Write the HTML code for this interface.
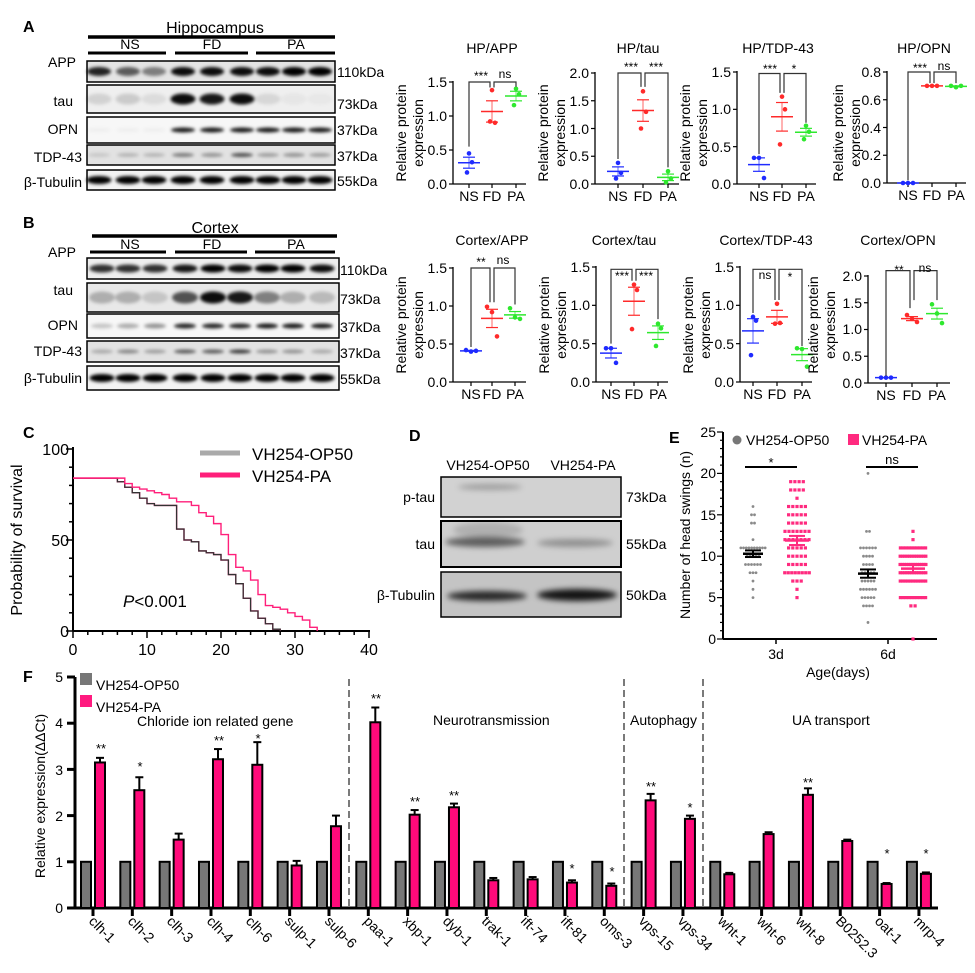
<!DOCTYPE html>
<html><head><meta charset="utf-8"><style>
html,body{margin:0;padding:0;background:#fff}
svg{display:block;font-family:"Liberation Sans",Arial,sans-serif}
</style></head><body>
<svg id="s" width="975" height="973" viewBox="0 0 975 973" xmlns="http://www.w3.org/2000/svg">
<defs>
<filter id="bl" x="-20%" y="-100%" width="140%" height="300%"><feGaussianBlur stdDeviation="1.6"/></filter>
<filter id="bl2" x="-20%" y="-100%" width="140%" height="300%"><feGaussianBlur stdDeviation="3"/></filter>
</defs>
<g id="shapes"></g>
<g font-size="16" font-weight="bold">
<text x="23" y="32">A</text><text x="23" y="228">B</text><text x="23" y="438">C</text>
<text x="409" y="441">D</text><text x="669" y="443">E</text><text x="23" y="682">F</text>
</g>
<g font-size="16" text-anchor="middle"><text x="215" y="33">Hippocampus</text><text x="215" y="233">Cortex</text></g>
<g font-size="14" text-anchor="middle">
<text x="130" y="49">NS</text><text x="212" y="49">FD</text><text x="296" y="49">PA</text>
<text x="130" y="249">NS</text><text x="212" y="249">FD</text><text x="296" y="249">PA</text>
</g>
<g font-size="14" text-anchor="end">
<text x="76" y="67">APP</text><text x="73" y="106">tau</text><text x="78" y="134">OPN</text><text x="82" y="162">TDP-43</text><text x="82" y="187">β-Tubulin</text>
<text x="76" y="257">APP</text><text x="73" y="295">tau</text><text x="78" y="330">OPN</text><text x="82" y="356">TDP-43</text><text x="82" y="383">β-Tubulin</text>
</g>
<g font-size="14">
<text x="337" y="77">110kDa</text><text x="337" y="109">73kDa</text><text x="337" y="135">37kDa</text><text x="337" y="161">37kDa</text><text x="337" y="186">55kDa</text>
<text x="340" y="275">110kDa</text><text x="340" y="304">73kDa</text><text x="340" y="332">37kDa</text><text x="340" y="358">37kDa</text><text x="340" y="384">55kDa</text>
</g>
<g font-size="14" text-anchor="middle">
<text x="492" y="53">HP/APP</text><text x="638" y="53">HP/tau</text><text x="778" y="53">HP/TDP-43</text><text x="924" y="53">HP/OPN</text>
<text x="492" y="245">Cortex/APP</text><text x="624" y="245">Cortex/tau</text><text x="766" y="245">Cortex/TDP-43</text><text x="898" y="245">Cortex/OPN</text>
</g>
<g font-size="14" text-anchor="middle">
<text transform="translate(406,133) rotate(-90)">Relative protein</text><text transform="translate(423,133) rotate(-90)">expression</text>
<text transform="translate(548,133) rotate(-90)">Relative protein</text><text transform="translate(565,133) rotate(-90)">expression</text>
<text transform="translate(690,133) rotate(-90)">Relative protein</text><text transform="translate(707,133) rotate(-90)">expression</text>
<text transform="translate(843,133) rotate(-90)">Relative protein</text><text transform="translate(860,133) rotate(-90)">expression</text>
<text transform="translate(406,325) rotate(-90)">Relative protein</text><text transform="translate(423,325) rotate(-90)">expression</text>
<text transform="translate(549,325) rotate(-90)">Relative protein</text><text transform="translate(566,325) rotate(-90)">expression</text>
<text transform="translate(693,325) rotate(-90)">Relative protein</text><text transform="translate(710,325) rotate(-90)">expression</text>
<text transform="translate(818,325) rotate(-90)">Relative protein</text><text transform="translate(835,325) rotate(-90)">expression</text>
</g>
<g font-size="14" text-anchor="end">
<text x="447" y="189">0.0</text><text x="447" y="155">0.5</text><text x="447" y="121">1.0</text><text x="447" y="87">1.5</text>
<text x="589" y="189">0.0</text><text x="589" y="161">0.5</text><text x="589" y="134">1.0</text><text x="589" y="106">1.5</text><text x="589" y="78">2.0</text>
<text x="731" y="189">0.0</text><text x="731" y="152">0.5</text><text x="731" y="114">1.0</text><text x="731" y="77">1.5</text>
<text x="881" y="188">0.0</text><text x="881" y="160">0.2</text><text x="881" y="133">0.4</text><text x="881" y="105">0.6</text><text x="881" y="77">0.8</text>
<text x="447" y="387">0.0</text><text x="447" y="349">0.5</text><text x="447" y="311">1.0</text><text x="447" y="273">1.5</text>
<text x="590" y="387">0.0</text><text x="590" y="349">0.5</text><text x="590" y="310">1.0</text><text x="590" y="272">1.5</text>
<text x="734" y="387">0.0</text><text x="734" y="349">0.5</text><text x="734" y="310">1.0</text><text x="734" y="272">1.5</text>
<text x="862" y="388">0.0</text><text x="862" y="361">0.5</text><text x="862" y="334">1.0</text><text x="862" y="308">1.5</text><text x="862" y="281">2.0</text>
</g>
<g font-size="14" text-anchor="middle">
<text x="469" y="201">NS</text><text x="492" y="201">FD</text><text x="516" y="201">PA</text>
<text x="618" y="201">NS</text><text x="643" y="201">FD</text><text x="668" y="201">PA</text>
<text x="759" y="201">NS</text><text x="782" y="201">FD</text><text x="806" y="201">PA</text>
<text x="908" y="200">NS</text><text x="932" y="200">FD</text><text x="956" y="200">PA</text>
<text x="471" y="399">NS</text><text x="492" y="399">FD</text><text x="515" y="399">PA</text>
<text x="611" y="399">NS</text><text x="634" y="399">FD</text><text x="658" y="399">PA</text>
<text x="753" y="399">NS</text><text x="777" y="399">FD</text><text x="802" y="399">PA</text>
<text x="886" y="400">NS</text><text x="912" y="400">FD</text><text x="937" y="400">PA</text>
</g>
<g font-size="12" text-anchor="middle">
<text x="481" y="80">***</text><text x="505" y="78">ns</text>
<text x="631" y="71">***</text><text x="656" y="71">***</text>
<text x="770" y="73">***</text><text x="794" y="73">*</text>
<text x="920" y="72">***</text><text x="944" y="70">ns</text>
<text x="481" y="266">**</text><text x="503" y="264">ns</text>
<text x="622" y="280">***</text><text x="646" y="280">***</text>
<text x="765" y="279">ns</text><text x="790" y="281">*</text>
<text x="899" y="274">**</text><text x="925" y="272">ns</text>
</g>
<g font-size="16" text-anchor="middle">
<text x="73" y="655">0</text><text x="147" y="655">10</text><text x="221" y="655">20</text><text x="295" y="655">30</text><text x="369" y="655">40</text>
</g>
<g font-size="16" text-anchor="end">
<text x="69" y="455">100</text><text x="69" y="546">50</text><text x="69" y="637">0</text>
</g>
<text font-size="16" text-anchor="middle" transform="translate(22,540) rotate(-90)">Probability of survival</text>
<text x="123" y="607" font-size="17"><tspan font-style="italic">P</tspan>&lt;0.001</text>
<g font-size="17"><text x="252" y="460">VH254-OP50</text><text x="252" y="482">VH254-PA</text></g>
<g font-size="14" text-anchor="middle"><text x="488" y="470">VH254-OP50</text><text x="583" y="470">VH254-PA</text></g>
<g font-size="14" text-anchor="end"><text x="435" y="502">p-tau</text><text x="435" y="549">tau</text><text x="435" y="600">β-Tubulin</text></g>
<g font-size="14"><text x="626" y="502">73kDa</text><text x="626" y="549">55kDa</text><text x="626" y="600">50kDa</text></g>
<g font-size="14" text-anchor="end">
<text x="716" y="437">25</text><text x="716" y="478">20</text><text x="716" y="520">15</text><text x="716" y="561">10</text><text x="716" y="602">5</text><text x="716" y="644">0</text>
</g>
<text font-size="14" text-anchor="middle" transform="translate(690,535) rotate(-90)">Number of head swings (n)</text>
<g font-size="14" text-anchor="middle"><text x="776" y="659">3d</text><text x="888" y="659">6d</text><text x="838" y="677">Age(days)</text>
<text x="771" y="467" font-size="13">*</text><text x="892" y="464" font-size="13">ns</text></g>
<g font-size="14"><text x="746" y="445">VH254-OP50</text><text x="862" y="445">VH254-PA</text></g>
<g font-size="14" text-anchor="end">
<text x="63" y="913">0</text><text x="63" y="867">1</text><text x="63" y="821">2</text><text x="63" y="775">3</text><text x="63" y="728">4</text><text x="63" y="682">5</text>
</g>
<text font-size="14" text-anchor="middle" transform="translate(45,796) rotate(-90)">Relative expression(ΔΔCt)</text>
<g font-size="14"><text x="96" y="690">VH254-OP50</text><text x="96" y="712">VH254-PA</text>
<text x="137" y="726">Chloride ion related gene</text><text x="433" y="725">Neurotransmission</text><text x="630" y="725">Autophagy</text><text x="792" y="725">UA transport</text></g>
<g font-size="14" id="genes">
<text transform="translate(88,922) rotate(45)">clh-1</text>
<text transform="translate(127,922) rotate(45)">clh-2</text>
<text transform="translate(166,922) rotate(45)">clh-3</text>
<text transform="translate(206,922) rotate(45)">clh-4</text>
<text transform="translate(245,922) rotate(45)">clh-6</text>
<text transform="translate(284,922) rotate(45)">sulp-1</text>
<text transform="translate(324,922) rotate(45)">sulp-6</text>
<text transform="translate(363,922) rotate(45)">paa-1</text>
<text transform="translate(402,922) rotate(45)">xbp-1</text>
<text transform="translate(442,922) rotate(45)">dyb-1</text>
<text transform="translate(481,922) rotate(45)">trak-1</text>
<text transform="translate(520,922) rotate(45)">ift-74</text>
<text transform="translate(560,922) rotate(45)">ift-81</text>
<text transform="translate(599,922) rotate(45)">oms-3</text>
<text transform="translate(638,922) rotate(45)">vps-15</text>
<text transform="translate(677,922) rotate(45)">vps-34</text>
<text transform="translate(717,922) rotate(45)">wht-1</text>
<text transform="translate(756,922) rotate(45)">wht-6</text>
<text transform="translate(795,922) rotate(45)">wht-8</text>
<text transform="translate(835,922) rotate(45)">B0252.3</text>
<text transform="translate(874,922) rotate(45)">oat-1</text>
<text transform="translate(913,922) rotate(45)">mrp-4</text>
</g>
<g font-size="13" text-anchor="middle">
<text x="101" y="753">**</text><text x="140" y="771">*</text><text x="219" y="745">**</text><text x="258" y="743">*</text>
<text x="376" y="703">**</text><text x="415" y="806">**</text><text x="454" y="800">**</text>
<text x="572" y="873">*</text><text x="612" y="876">*</text>
<text x="651" y="791">**</text><text x="690" y="812">*</text><text x="808" y="787">**</text>
<text x="887" y="858">*</text><text x="926" y="858">*</text>
</g>
</svg>
<script>
var NS="http://www.w3.org/2000/svg",G=document.getElementById('shapes');
function el(t,a){var e=document.createElementNS(NS,t);for(var k in a)e.setAttribute(k,a[k]);G.appendChild(e);return e;}
function L(x1,y1,x2,y2,c,w,ex){var a={x1:x1,y1:y1,x2:x2,y2:y2,stroke:c||'#000','stroke-width':w||1};if(ex)for(var k in ex)a[k]=ex[k];return el('line',a);}
function R(x,y,w,h,f,ex){var a={x:x,y:y,width:w,height:h,fill:f};if(ex)for(var k in ex)a[k]=ex[k];return el('rect',a);}
L(88,37,335,37,'#000',3.5);
[[88,166],[175,248],[256,335]].forEach(function(p){L(p[0],53,p[1],53,'#000',3)});
L(92,236,337,236,'#000',3.5);
[[90,166],[175,247],[255,335]].forEach(function(p){L(p[0],252,p[1],252,'#000',3)});
function blot(x1,x2,y1,y2,bg,lanes,ints,bh,bw){
  R(x1,y1,x2-x1,y2-y1,bg,{stroke:'#000','stroke-width':1.5});
  var cy=(y1+y2)/2;
  lanes.forEach(function(lx,i){var v=ints[i];if(v<=0)return;
    el('ellipse',{cx:lx,cy:cy,rx:bw/2,ry:bh/2,fill:'#000','fill-opacity':v,filter:'url(#bl)'});});
}
var la=[99,128,154,183,212,242,268,294,320],lb=[102,128,155,185,213,240,267,293,322];
blot(87,335,61,82,'#e4e4e4',la,[.85,.6,.45,.95,.95,.95,.95,1,1],9,24);
blot(87,335,85,113,'#efefef',la,[.12,.15,.08,.95,.9,.95,.1,.04,.03],11,25);
blot(87,335,117,143,'#f7f7f7',la,[.03,.03,.03,.9,.9,.9,.9,.9,.9],5,24);
blot(87,335,145,165,'#e2e2e2',la,[.12,.2,.2,.45,.35,.65,.3,.35,.3],4,22);
blot(87,335,170,190,'#f3f3f3',la,[1,1,1,1,1,1,1,1,1],8,25);
blot(87,339,258,279,'#eeeeee',lb,[.8,.8,.8,.9,1,.95,1,1,.95],8,25);
blot(87,339,283,312,'#e8e8e8',lb,[.25,.25,.15,.65,.95,.9,.45,.25,.2],12,26);
blot(87,339,314,338,'#f7f7f7',lb,[.2,.3,.4,.85,.85,.85,.9,.9,.9],5,22);
blot(87,339,341,362,'#e2e2e2',lb,[.25,.4,.3,.6,.6,.75,.35,.35,.25],4,22);
blot(87,339,366,390,'#f3f3f3',lb,[1,1,1,1,1,1,1,1,1],8,25);
var COL=['#1f2bff','#ff2a2a','#2ee82e'];
function sp(o){
  var ax=o.ax,y0=o.y0,yt=o.yt,mx=o.max,sc=(y0-yt)/mx;
  function Y(v){return y0-v*sc;}
  L(ax,yt-1,ax,y0,'#000',1.3);L(ax,y0,o.end,y0,'#000',1.3);
  o.ticks.forEach(function(t){L(ax-4,Y(t),ax,Y(t),'#000',1.2)});
  o.g.forEach(function(gx){L(gx,y0,gx,y0+4,'#000',1.2)});
  o.d.forEach(function(arr,i){var gx=o.g[i],c=COL[i];
    var m=arr.reduce(function(a,b){return a+b},0)/3;
    var sd=Math.sqrt(arr.reduce(function(a,b){return a+(b-m)*(b-m)},0)/2)/Math.sqrt(3);
    var off=[-5,0,5];
    arr.forEach(function(v,j){var dx=o.flat?off[j]:(j==1?3:(j==0?0:-2)); if(!o.flat&&Math.abs(arr[0]-arr[1])<0.04)dx=off[j];
      el('circle',{cx:gx+dx,cy:Y(v),r:2.3,fill:c});});
    L(gx-11,Y(m),gx+11,Y(m),c,1.5);
    L(gx,Y(m+sd),gx,Y(m-sd),c,1.2,{'stroke-opacity':.6});
    L(gx-6,Y(m+sd),gx+6,Y(m+sd),c,1.2);L(gx-6,Y(m-sd),gx+6,Y(m-sd),c,1.2);
  });
  o.br.forEach(function(b){
    el('polyline',{points:b[0]+','+b[1]+' '+b[0]+','+b[4]+' '+b[2]+','+b[4]+' '+b[2]+','+b[3],fill:'none',stroke:'#333','stroke-width':1.2});
  });
}
function ysc(y0,yt,mx){return function(v){return y0-v*(y0-yt)/mx}}
var y;
y=ysc(184,82,1.5);
sp({ax:453,y0:184,yt:82,max:1.5,end:526,ticks:[0,.5,1,1.5],g:[469,492,516],d:[[.45,.32,.17],[1.38,.9,.92],[1.4,1.32,1.16]],
 br:[[469,y(.55),490,y(1.42),y(1.5)],[494,y(1.42),516,y(1.43),y(1.5)]]});
y=ysc(184,73,2);
sp({ax:595,y0:184,yt:73,max:2,end:679,ticks:[0,.5,1,1.5,2],g:[618,643,668],d:[[.38,.2,.1],[1.67,1.3,1.0],[.23,.1,.03]],
 br:[[618,y(.45),641,y(1.75),y(2.0)],[645,y(1.75),668,y(.3),y(2.0)]]});
y=ysc(184,72,1.5);
sp({ax:737,y0:184,yt:72,max:1.5,end:816,ticks:[0,.5,1,1.5],g:[759,782,806],d:[[.35,.35,.08],[1.17,1.0,.53],[.78,.7,.6]],
 br:[[759,y(.4),780,y(1.22),y(1.48)],[784,y(1.22),806,y(.82),y(1.48)]]});
y=ysc(183,72,.8);
sp({ax:887,y0:183,yt:72,max:.8,end:966,flat:1,ticks:[0,.2,.4,.6,.8],g:[908,932,956],d:[[0,0,0],[.7,.7,.7],[.7,.69,.7]],
 br:[[908,y(.02),930,y(.72),y(.8)],[934,y(.72),956,y(.72),y(.8)]]});
y=ysc(382,268,1.5);
sp({ax:453,y0:382,yt:268,max:1.5,end:526,flat:1,ticks:[0,.5,1,1.5],g:[471,492,515],d:[[.42,.4,.41],[.99,.92,.6],[.97,.85,.83]],
 br:[[471,y(.46),490,y(1.05),y(1.5)],[494,y(1.05),515,y(1.02),y(1.5)]]});
y=ysc(382,267,1.5);
sp({ax:596,y0:382,yt:267,max:1.5,end:668,ticks:[0,.5,1,1.5],g:[611,634,658],d:[[.44,.44,.25],[1.27,1.2,.69],[.76,.7,.47]],
 br:[[611,y(.5),632,y(1.32),y(1.47)],[636,y(1.32),658,y(.82),y(1.47)]]});
y=ysc(382,267,1.5);
sp({ax:740,y0:382,yt:267,max:1.5,end:812,ticks:[0,.5,1,1.5],g:[753,777,802],d:[[.85,.8,.35],[1.02,.77,.76],[.44,.43,.2]],
 br:[[753,y(.9),775,y(1.07),y(1.47)],[779,y(1.07),802,y(.47),y(1.47)]]});
y=ysc(383,276,2);
sp({ax:868,y0:383,yt:276,max:2,end:950,flat:1,ticks:[0,.5,1,1.5,2],g:[886,912,937],d:[[.1,.1,.1],[1.27,1.2,1.14],[1.47,1.3,1.12]],
 br:[[886,y(.13),910,y(1.4),y(2.1)],[914,y(1.55),937,y(1.55),y(2.1)]]});
(function(){
 var x0=73,y0=631,sx=7.4,sy=1.82;
 L(x0,447,x0,y0,'#000',2);L(x0,y0,370,y0,'#000',2);
 for(var t=0;t<=100;t+=10)L(x0-(t%50?4:7),y0-t*sy,x0,y0-t*sy,'#000',1.5);
 for(var d=0;d<=40;d+=2)L(x0+d*sx,y0,x0+d*sx,y0+(d%10?4:7),'#000',1.5);
 function curve(pts,c,w){var s='M'+x0+','+(y0-pts[0][1]*sy);
  for(var i=1;i<pts.length;i++){var X=x0+pts[i][0]*sx;s+=' H'+X+' V'+(y0-pts[i][1]*sy);}
  el('path',{d:s,fill:'none',stroke:c,'stroke-width':w});}
 var op=[[0,84],[5,84],[6,82],[7,79],[8,76],[9,73],[10,70],[11,69],[13,69],[14,56],[15,50],[16,49],[17,44],[18,43],[19,42],[20,39],[21,31],[22,26],[23,18],[24,11],[25,7],[26,4],[27,1],[28,0]];
 curve(op,'#ff1f7a',1.4);
 curve(op,'#333',1.3);
 curve([[0,84],[6,84],[7,81],[8,79],[9,78],[10,77],[11,76],[12,75],[13,73],[14,71],[16,69],[17,65],[18,63],[19,59],[20,53],[21,42],[22,35],[23,33],[24,28],[25,20],[26,14],[27,13],[28,12],[29,10],[30,8],[31,6],[32,2],[33,0]],'#ff1f7a',1.4);
 L(200,453,240,453,'#aaa',5);L(200,475,240,475,'#ff1f7a',5);
})();
(function(){
 R(441,477,180,40,'#d2d2d2',{stroke:'#000','stroke-width':1.5});
 el('ellipse',{cx:490,cy:487,rx:32,ry:3,fill:'#000','fill-opacity':.25,filter:'url(#bl2)'});
 R(441,521,180,46,'#cfcfcf',{stroke:'#000','stroke-width':2});
 el('ellipse',{cx:485,cy:542,rx:40,ry:5,fill:'#000','fill-opacity':.55,filter:'url(#bl2)'});
 el('ellipse',{cx:488,cy:530,rx:35,ry:8,fill:'#000','fill-opacity':.15,filter:'url(#bl2)'});
 el('ellipse',{cx:575,cy:543,rx:38,ry:4,fill:'#000','fill-opacity':.3,filter:'url(#bl2)'});
 R(441,572,180,45,'#c4c4c4',{stroke:'#000','stroke-width':1.5});
 el('ellipse',{cx:487,cy:596,rx:40,ry:5,fill:'#000','fill-opacity':.8,filter:'url(#bl2)'});
 el('ellipse',{cx:577,cy:595,rx:40,ry:6,fill:'#000','fill-opacity':.9,filter:'url(#bl2)'});
})();
(function(){
 var ax=723,y0=639,s=8.28;
 L(ax,432,ax,y0,'#000',2);L(ax,y0,937,y0,'#000',2);
 for(var v=0;v<=25;v++)L(ax-(v%5?3:6),y0-v*s,ax,y0-v*s,'#000',1.2);
 L(776,y0,776,y0+5,'#000',1.5);L(888,y0,888,y0+5,'#000',1.5);
 L(745,467,797,467,'#000',2);L(866,467,918,467,'#000',2);
 el('circle',{cx:737,cy:440,r:4.5,fill:'#777'});R(848,434,11,11,'#ff2a7f');
 function grp(cx,cnt,pink){for(var k in cnt){var n=cnt[k],yy=y0-k*s,sp=Math.min(pink?4.2:3,(pink?28:27)/n);
  for(var i=0;i<n;i++){var xx=cx+(i-(n-1)/2)*sp;
   if(pink)R(xx-1.6,yy-1.6,3.2,3.2,'#ff2a7f');else el('circle',{cx:xx,cy:yy,r:1.4,fill:'#8a8a8a'});}}}
 grp(753,{5:1,6:1,7:1,8:3,9:6,10:5,11:10,12:1,14:2,15:2,16:1},0);
 grp(797,{5:1,6:1,7:3,8:8,9:5,10:5,11:5,12:7,13:7,14:5,15:5,16:5,17:1,18:4,19:4},1);
 grp(868,{2:1,4:4,5:5,6:6,7:5,8:5,9:4,10:4,11:6,13:2,20:1},0);
 grp(913,{0:1,4:2,5:10,7:11,8:12,9:13,10:12,11:10,12:1,13:1},1);
 function mb(cx,m,e,c,w){L(cx-w/2,y0-m*s,cx+w/2,y0-m*s,c,2.5);L(cx,y0-(m+e)*s,cx,y0-(m-e)*s,c,2);
  L(cx-8,y0-(m+e)*s,cx+8,y0-(m+e)*s,c,2);L(cx-8,y0-(m-e)*s,cx+8,y0-(m-e)*s,c,2);}
 mb(753,10.3,.4,'#000',20);mb(797,11.9,.55,'#ff2a7f',24);mb(868,7.9,.5,'#000',20);mb(913,8.5,.45,'#ff2a7f',24);
})();
(function(){
 var y0=908,s=46.2,ax=75;
 L(ax,677,ax,y0+1,'#000',3);L(67,y0,938,y0,'#000',3);
 for(var v=0;v<=5;v++)L(67,y0-v*s,ax,y0-v*s,'#000',3);
 R(80,673,12,12,'#777');R(80,695,12,12,'#ff1a7f');
 var vals=[[3.15,.1],[2.55,.28],[1.48,.13],[3.22,.22],[3.1,.49],[.92,.1],[1.77,.23],[4.02,.32],[2.02,.1],[2.18,.08],[.6,.05],[.62,.05],[.55,.05],[.48,.05],[2.33,.14],[1.93,.07],[.73,.03],[1.6,.04],[2.45,.14],[1.45,.03],[.52,.02],[.74,.03]];
 vals.forEach(function(p,i){var t=93+i*39.33;
  L(t,y0,t,y0+8,'#000',3);
  R(t-12,y0-s,10,s,'#777',{stroke:'#000','stroke-width':2});
  L(t+7,y0-(p[0]+p[1])*s,t+7,y0-p[0]*s,'#000',2);L(t+3,y0-(p[0]+p[1])*s,t+11,y0-(p[0]+p[1])*s,'#000',2);
  R(t+2,y0-p[0]*s,10,p[0]*s,'#ff0a7a',{stroke:'#000','stroke-width':2});
 });
 [349,624,703].forEach(function(x){L(x,679,x,y0,'#333',1.3,{'stroke-dasharray':'7,4'})});
})();
</script>
</body></html>
